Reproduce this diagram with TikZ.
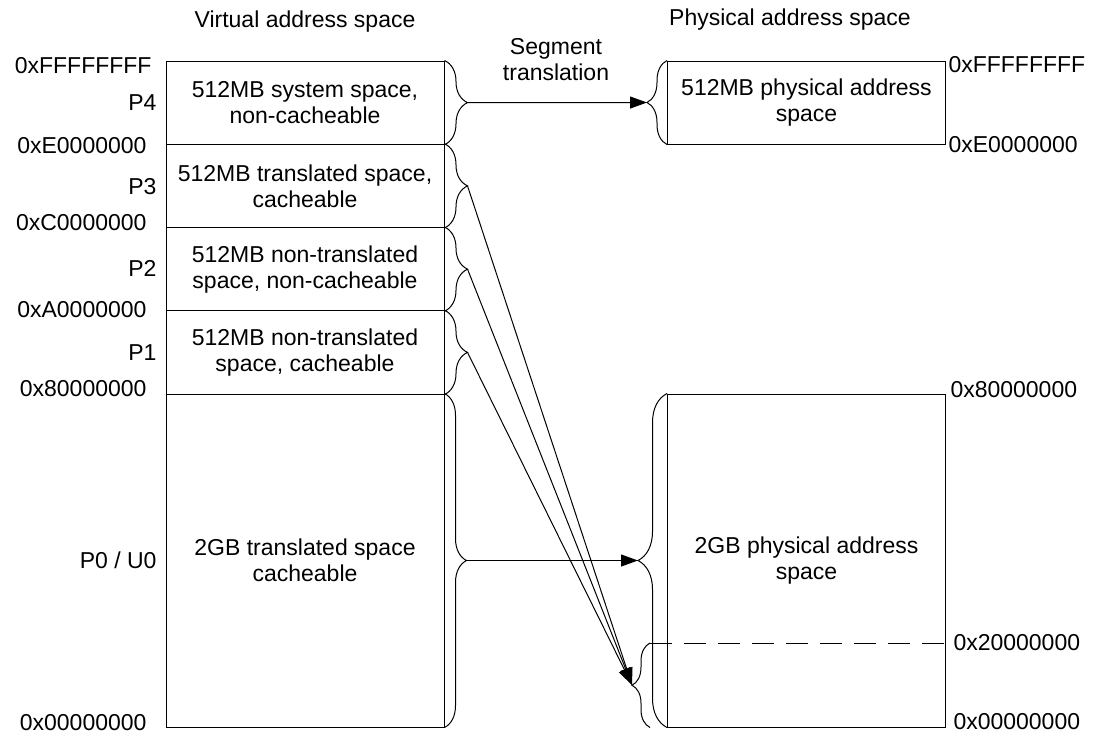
\documentclass[tikz,border=0pt]{standalone}
\usepackage{fontspec}
\setmainfont{Liberation Sans}
\usetikzlibrary{arrows.meta,decorations.pathreplacing}
\begin{document}
\begin{tikzpicture}[x=0.5pt,y=-0.5pt,line width=0.5pt,
  font=\fontsize{11.5pt}{13pt}\selectfont,
  seg/.style={draw,minimum width=139pt,minimum height=#1,align=center,inner sep=0pt},
  addr/.style={inner sep=0pt},
  brc/.style={decorate,decoration={brace,amplitude=#1}},
  arr/.style={-{Triangle[length=8.5pt,width=6pt]}}]
\useasboundingbox (0,0) rectangle (1102,734);
\node[align=center] (vtitle) at (305,22) {Virtual address space};
\node[align=center] (ptitle) at (790,20) {Physical address space};
\node[align=center] (segtr) at (556,60) {Segment\\translation};
\node[seg=41.625pt] (p4) at (305,102.625) {512MB system space,\\non-cacheable};
\node[seg=41.625pt] (p3) at (305,185.875) {512MB translated space,\\cacheable};
\node[seg=41.625pt] (p2) at (305,269.125) {512MB non-translated\\space, non-cacheable};
\node[seg=41.625pt] (p1) at (305,352.375) {512MB non-translated\\space, cacheable};
\node[seg=166.5pt] (p0) at (305,560.5) {2GB translated space\\cacheable};
\node[seg=41.5pt] (ph4) at (806.5,102.5) {512MB physical address\\space};
\node[seg=166.5pt] (ph0) at (806.5,560.5) {2GB physical address\\space};
\node[addr,anchor=east] (vff) at (152,66) {0xFFFFFFFF};
\node[addr,anchor=east] (ve0) at (147,146) {0xE0000000};
\node[addr,anchor=east] (vc0) at (147,223) {0xC0000000};
\node[addr,anchor=east] (va0) at (147,310) {0xA0000000};
\node[addr,anchor=east] (v80) at (147,389) {0x80000000};
\node[addr,anchor=east] (v00) at (147,723) {0x00000000};
\node[addr,anchor=east] (lp4) at (157,103) {P4};
\node[addr,anchor=east] (lp3) at (157,187) {P3};
\node[addr,anchor=east] (lp2) at (157,268) {P2};
\node[addr,anchor=east] (lp1) at (157,353) {P1};
\node[addr,anchor=east] (lp0) at (157,560) {P0 / U0};
\node[addr,anchor=west] (pff) at (948,65) {0xFFFFFFFF};
\node[addr,anchor=west] (pe0) at (948,145) {0xE0000000};
\node[addr,anchor=west] (p80) at (950,390) {0x80000000};
\node[addr,anchor=west] (p00) at (953,722) {0x00000000};
\foreach \i in {4,3,2,1} {
  \draw[brc=11.5pt] (p\i.north east) -- (p\i.south east);
  \coordinate (tip\i) at ([xshift=11.5pt]p\i.east);
}
\draw[brc=11pt] (p0.north east) -- (p0.south east);
\coordinate (tip0) at ([xshift=11pt]p0.east);
\draw[brc=10pt] (ph4.south west) -- (ph4.north west);
\coordinate (phtip4) at ([xshift=-10pt]ph4.west);
\draw[brc=14.5pt] (ph0.south west) -- (ph0.north west);
\coordinate (phtip0) at ([xshift=-14.5pt]ph0.west);
\coordinate (lowtop) at (650,643);
\coordinate (lowbot) at (lowtop |- ph0.south);
\draw[brc=9pt] (lowbot) -- (lowtop);
\coordinate (lowtip) at ([xshift=-9pt]650,685);
\draw[dash pattern=on 11pt off 6pt] (lowtop) -- (lowtop -| ph0.east)
  node[addr,anchor=west,xshift=3.5pt] (p20) {0x20000000};
\draw[arr] (tip4) -- (phtip4);
\draw[arr] (tip0) -- (phtip0);
\foreach \i in {3,2,1}
  \draw[arr] (tip\i) -- (lowtip);
\end{tikzpicture}
\end{document}
